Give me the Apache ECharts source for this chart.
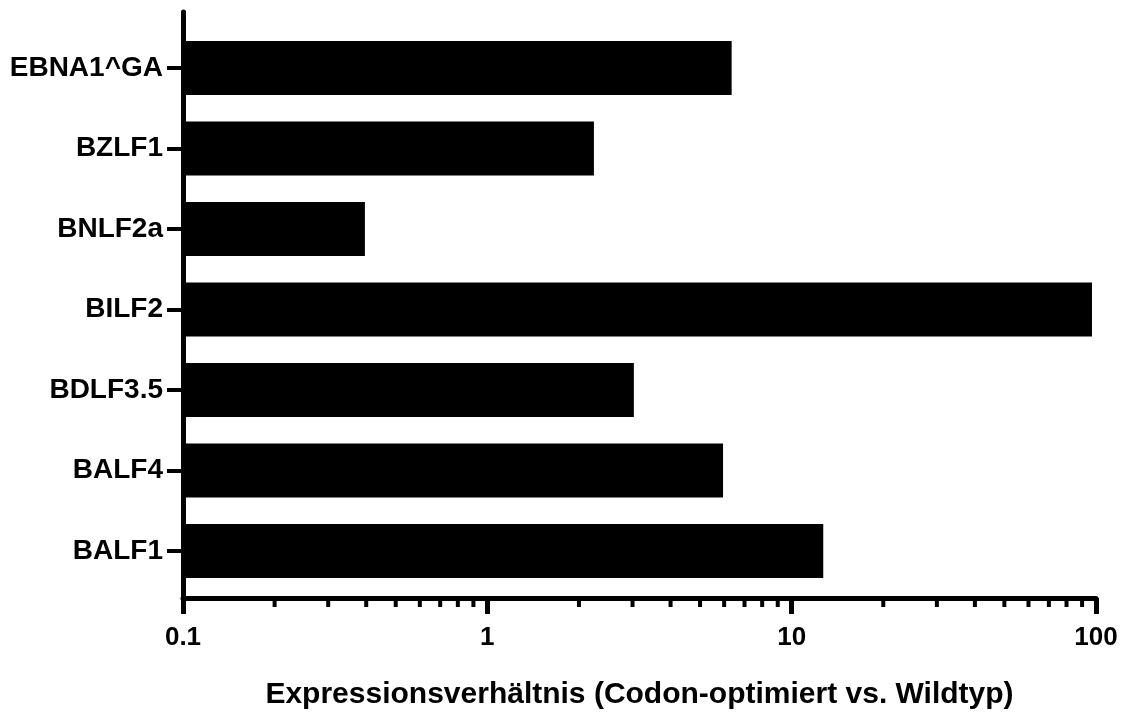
<!DOCTYPE html>
<html>
<head>
<meta charset="utf-8">
<script src="https://cdn.jsdelivr.net/npm/echarts@6/dist/echarts.min.js"></script>
<style>
html,body{margin:0;padding:0;background:#fff;}
#chart{width:1140px;height:715px;}
</style>
</head>
<body>
<div id="chart"></div>
<script>
// Categories listed top to bottom
const categories = ['EBNA1^GA', 'BZLF1', 'BNLF2a', 'BILF2', 'BDLF3.5', 'BALF4', 'BALF1'];
const ratios = [6.35, 2.24, 0.396, 97, 3.03, 5.95, 12.7];
const majorTicks = [0.1, 1, 10, 100];
const minorTickValues = [0.2,0.3,0.4,0.5,0.6,0.7,0.8,0.9, 2,3,4,5,6,7,8,9, 20,30,40,50,60,70,80,90];
const axisTitle = 'Expressionsverhältnis (Codon-optimiert vs. Wildtyp)';

const FONT = "'Liberation Sans', Arial, Helvetica, sans-serif";
const chart = echarts.init(document.getElementById('chart'), null, {renderer: 'canvas'});
const axisMin = majorTicks[0];
const axisMax = majorTicks[majorTicks.length - 1];

const option = {
  backgroundColor: '#ffffff',
  animation: false,
  grid: [
    {left: 183, right: 44, top: 12, bottom: 110.5, containLabel: false},
    {left: 183, right: 44, top: 27.75, bottom: 123.75, containLabel: false}
  ],
  xAxis: [
    {
      gridIndex: 0,
      type: 'log',
      logBase: 10,
      min: axisMin,
      max: axisMax,
      axisLine: {show: true, lineStyle: {color: '#000', width: 5}},
      axisTick: {show: true, length: 16, lineStyle: {color: '#000', width: 5}},
      splitLine: {show: false},
      axisLabel: {
        show: true, margin: 27, color: '#000',
        fontFamily: FONT, fontWeight: 'bold', fontSize: 26,
        formatter: function (v) { return String(+parseFloat(v).toPrecision(6)); }
      },
      name: axisTitle,
      nameLocation: 'middle',
      nameGap: 82,
      nameTextStyle: {color: '#000', fontFamily: FONT, fontWeight: 'bold', fontSize: 30}
    },
    {
      gridIndex: 1,
      type: 'log',
      logBase: 10,
      min: axisMin,
      max: axisMax,
      show: false
    }
  ],
  yAxis: [
    {
      gridIndex: 0,
      type: 'value',
      min: 0, max: 1,
      axisLine: {show: true, lineStyle: {color: '#000', width: 5}},
      axisTick: {show: false},
      axisLabel: {show: false},
      splitLine: {show: false}
    },
    {
      gridIndex: 1,
      type: 'category',
      data: categories,
      inverse: true,
      axisLine: {show: false},
      axisTick: {show: true, alignWithLabel: true, length: 16, lineStyle: {color: '#000', width: 4}},
      axisLabel: {
        show: true, margin: 20, color: '#000',
        fontFamily: FONT, fontWeight: 'bold', fontSize: 28
      },
      splitLine: {show: false}
    }
  ],
  series: [
    {
      type: 'custom',
      xAxisIndex: 1,
      yAxisIndex: 1,
      data: ratios.map((v, i) => [v, i]),
      clip: false,
      renderItem: function (params, api) {
        const end = api.coord([api.value(0), api.value(1)]);
        const start = api.coord([axisMin, api.value(1)]);
        const h = 54;
        return {
          type: 'rect',
          shape: {x: start[0], y: end[1] - h / 2, width: end[0] - start[0], height: h},
          style: {fill: '#000'}
        };
      },
      z: 3
    },
    {
      type: 'custom',
      xAxisIndex: 0,
      yAxisIndex: 0,
      data: minorTickValues.map(v => [v, 0]),
      clip: false,
      silent: true,
      renderItem: function (params, api) {
        const p = api.coord([api.value(0), 0]);
        return {
          type: 'line',
          shape: {x1: p[0], y1: p[1], x2: p[0], y2: p[1] + 9},
          style: {stroke: '#000', lineWidth: 4}
        };
      },
      z: 4
    }
  ]
};
chart.setOption(option);
</script>
</body>
</html>
